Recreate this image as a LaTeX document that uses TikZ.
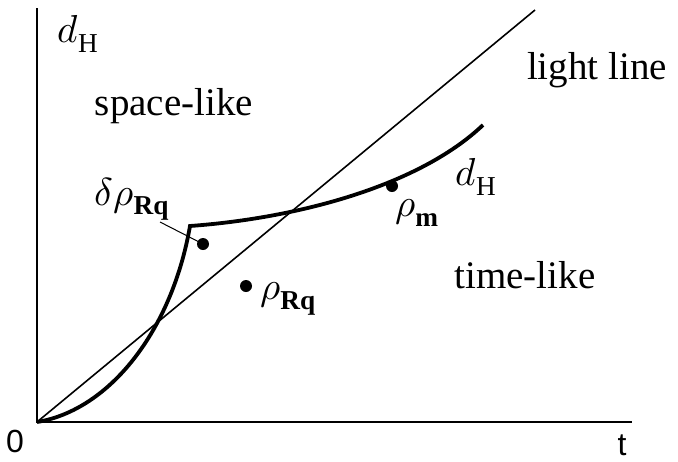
\documentclass[tikz,border=0pt]{standalone}
\usepackage{fontspec}
\usepackage{unicode-math}
\setmainfont{Liberation Serif}
\setmathfont{Latin Modern Math}
\newfontfamily\axisfont{Liberation Sans}
\usepackage{tikz}
\usetikzlibrary{positioning,calc}

\tikzset{
  regionlbl/.style={font=\fontsize{39}{45}\selectfont, inner sep=0pt},
  mathlbl/.style={font=\fontsize{39}{45}\selectfont, inner sep=0pt},
  axislbl/.style={font=\axisfont\fontsize{32}{38}\selectfont, inner sep=0pt},
  ptdot/.style={circle, fill=black, inner sep=0pt, minimum size=12pt},
}

\begin{document}
\begin{tikzpicture}[x=1pt,y=-1pt]
    \useasboundingbox (0,0) rectangle (678,461);

    % Axes
    \coordinate (O) at (37,422);
    \coordinate (ytop) at (37,8);
    \coordinate (xend) at (632,422);
    \draw[line width=2pt] (ytop) -- (O) -- (xend);
    \node[axislbl] (zero) at (15,441) {0};
    \node[axislbl] (tlbl) at (622,445) {t};
    \node[mathlbl] (dhaxis) at (78,34) {$d_{\mathrm{H}}$};

    % Light line
    \coordinate (lend) at (535,10);
    \draw[line width=1.6pt] (O) -- (lend);
    \node[regionlbl] (light) at (597,70) {light line};

    % d_H curve with cusp
    \coordinate (cusp) at (190,226);
    \coordinate (cend) at (483,125);
    \draw[line width=3.8pt, line join=miter]
      (O) .. controls (110,410) and (172,330) .. (cusp)
          .. controls (300,218) and (420,185) .. (cend);
    \node[mathlbl] (dhcurve) at (476,177) {$d_{\mathrm{H}}$};

    % Regions
    \node[regionlbl] (space) at (174,106) {space-like};
    \node[regionlbl] (time) at (525,275) {time-like};

    % Points
    \node[ptdot] (drq) at (203,244) {};
    \node[ptdot] (rq) at (246,286) {};
    \node[ptdot] (rm) at (392,186) {};
    \node[mathlbl] (drqlbl) at (132,199) {$\delta\rho_{\mathbf{Rq}}$};
    \node[mathlbl] (rqlbl) at (288,299) {$\rho_{\mathbf{Rq}}$};
    \node[mathlbl] (rmlbl) at (417,213) {$\rho_{\mathbf{m}}$};
    \coordinate (lead) at (160,222);
    \draw[line width=1pt] (lead) -- (drq.center);
\end{tikzpicture}
\end{document}
